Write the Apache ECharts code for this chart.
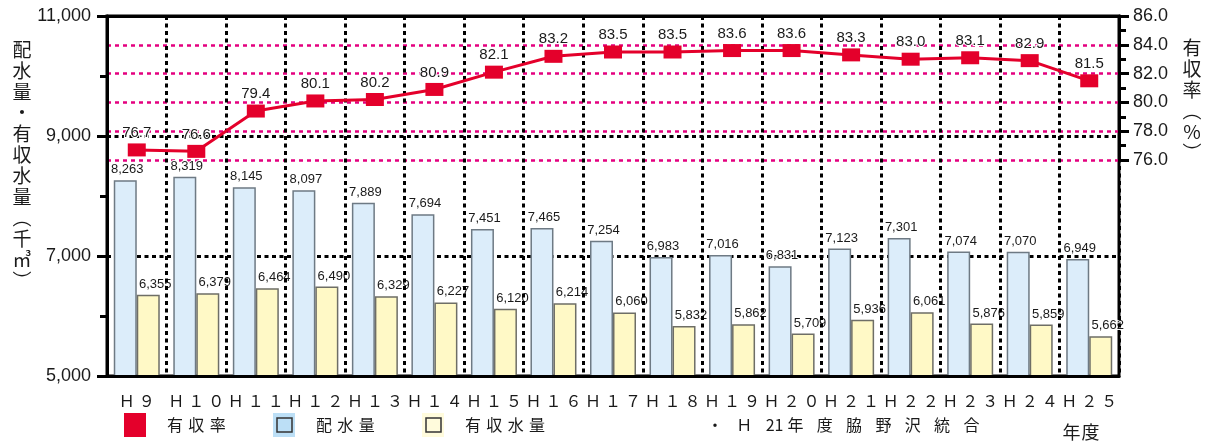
<!DOCTYPE html>
<html>
<head>
<meta charset="utf-8">
<script src="https://cdn.jsdelivr.net/npm/echarts@6/dist/echarts.min.js"></script>
<style>
  html, body { margin: 0; padding: 0; background: #fff; }
  #chart { width: 1212px; height: 443px; }
</style>
</head>
<body>
<div id="chart"></div>
<script>
// Fiscal years (Heisei)
const categories = ['H9', 'H10', 'H11', 'H12', 'H13', 'H14', 'H15', 'H16', 'H17',
                    'H18', 'H19', 'H20', 'H21', 'H22', 'H23', 'H24', 'H25'];
// 配水量 (thousand m3)
const distributed = [8263, 8319, 8145, 8097, 7889, 7694, 7451, 7465, 7254,
                     6983, 7016, 6831, 7123, 7301, 7074, 7070, 6949];
// 有収水量 (thousand m3)
const billed = [6355, 6379, 6464, 6490, 6329, 6227, 6120, 6214, 6060,
                5832, 5862, 5709, 5936, 6061, 5876, 5859, 5662];
// 有収率 (%)
const billedRatio = [76.7, 76.6, 79.4, 80.1, 80.2, 80.9, 82.1, 83.2, 83.5,
                     83.5, 83.6, 83.6, 83.3, 83.0, 83.1, 82.9, 81.5];

const volumeTitle = '配水量・有収水量︵千㎥︶';
const ratioTitle = '有収率︵%︶';
const noteTokens = ['・', 'Ｈ', '21', '年', '度', '脇', '野', '沢', '統', '合'];
const unitText = '年度';

const JP = '"Noto Sans CJK JP", "Noto Sans", sans-serif';
const NUM = '"Liberation Sans", Arial, sans-serif';
const RED = '#e4002b';
const PINK = '#e4007f';
const INK = '#1a1a1a';

const withCommas = v => String(v).replace(/\B(?=(\d{3})+(?!\d))/g, ',');
const toFullWidth = s => s.replace(/[A-Za-z0-9]/g, c => String.fromCharCode(c.charCodeAt(0) + 0xFEE0));
const spread = (s, gap) => Array.from(s).join(gap);
const vertical = s => Array.from(s).join('\n');

// note line: wide gaps between glyphs, a narrow one after the digits
const noteText = noteTokens.reduce((acc, t, i) => {
  if (i === 0) return t;
  const prev = noteTokens[i - 1];
  return acc + (/^\d+$/.test(prev) ? '\u2005' : '\u2002\u2004') + t;
}, '');

const blackDots = { color: '#000', width: 3, type: [4, 3.5] };
const tickStyle = { color: '#000', width: 3 };

const legendBase = {
  orient: 'horizontal', top: 413, padding: 0, selectedMode: false, z: 4,
  itemWidth: 22, itemHeight: 24,
  textStyle: { fontSize: 16, fontFamily: JP, color: INK },
  formatter: name => '\u2003' + spread(name, '\u2004')
};

const chart = echarts.init(document.getElementById('chart'), null, { renderer: 'canvas' });

chart.setOption({
  animation: false,
  backgroundColor: '#fff',
  grid: [
    { left: 107, right: 93, top: 16, bottom: 67, show: true,
      borderColor: '#000', borderWidth: 3, backgroundColor: 'transparent' },
    { left: 107, right: 93, top: 16, height: 144 }
  ],
  xAxis: [
    {
      type: 'category', gridIndex: 0, data: categories, z: 3,
      axisLine: { lineStyle: { color: '#000', width: 3 } },
      axisTick: { interval: 0, length: 10, lineStyle: tickStyle },
      axisLabel: {
        interval: 0, margin: 17, fontSize: 16, fontFamily: JP, color: INK,
        formatter: v => spread(toFullWidth(v), '\u2005')
      },
      splitLine: { show: true, interval: 0, lineStyle: blackDots }
    },
    {
      type: 'category', gridIndex: 1, data: categories, position: 'top', z: 6,
      axisLine: { show: true, lineStyle: { color: '#000', width: 3 } },
      axisTick: { show: false }, axisLabel: { show: false }, splitLine: { show: false }
    }
  ],
  yAxis: [
    {
      type: 'value', gridIndex: 0, min: 5000, max: 11000, interval: 2000,
      axisLine: { show: true, lineStyle: { color: '#000', width: 3 } },
      axisTick: { show: true, length: 10, lineStyle: tickStyle },
      minorTick: { show: true, splitNumber: 2, length: 7, lineStyle: tickStyle },
      axisLabel: { margin: 16, fontSize: 18, fontFamily: NUM, color: INK, formatter: v => withCommas(v) },
      splitLine: { show: true, lineStyle: blackDots }
    },
    {
      type: 'value', gridIndex: 1, position: 'right', min: 76, max: 86, interval: 2,
      axisLine: { show: true, lineStyle: { color: '#000', width: 3 } },
      axisTick: { show: true, length: 10, lineStyle: tickStyle },
      minorTick: { show: true, splitNumber: 2, length: 7, lineStyle: tickStyle },
      axisLabel: { margin: 14, fontSize: 18, fontFamily: NUM, color: INK, formatter: v => v.toFixed(1) },
      splitLine: { show: true, lineStyle: { color: PINK, width: 2.5, type: [4, 4] } }
    }
  ],
  legend: [
    Object.assign({}, legendBase, { left: 124,
      data: [{ name: '有収率', icon: 'rect', itemStyle: { color: RED, borderWidth: 0 } }] }),
    Object.assign({}, legendBase, { left: 273,
      data: [{ name: '配水量', icon: 'rect', itemStyle: { color: '#bcdff6', borderWidth: 0 } }] }),
    Object.assign({}, legendBase, { left: 422,
      data: [{ name: '有収水量', icon: 'rect', itemStyle: { color: '#fffbdc', borderWidth: 0 } }] })
  ],
  series: [
    {
      name: '配水量', type: 'bar', xAxisIndex: 0, yAxisIndex: 0,
      data: distributed, barWidth: 23, barGap: '0%',
      itemStyle: { color: '#dcedfa', borderColor: '#6e7a84', borderWidth: 1.5 },
      label: {
        show: true, position: 'top', distance: 4, offset: [2, 0],
        fontSize: 13, fontFamily: NUM, color: INK,
        textBorderColor: '#fff', textBorderWidth: 2,
        formatter: p => withCommas(p.value)
      }
    },
    {
      name: '有収水量', type: 'bar', xAxisIndex: 0, yAxisIndex: 0,
      data: billed, barWidth: 23, barGap: '0%',
      itemStyle: { color: '#fff9c6', borderColor: '#6e6e66', borderWidth: 1.5 },
      label: {
        show: true, position: 'top', distance: 4, offset: [7, 0],
        fontSize: 13, fontFamily: NUM, color: INK,
        textBorderColor: '#fff', textBorderWidth: 2,
        formatter: p => withCommas(p.value)
      }
    },
    {
      name: '有収率', type: 'line', xAxisIndex: 1, yAxisIndex: 1,
      data: billedRatio, clip: false, z: 5,
      symbol: 'rect', symbolSize: [18, 13],
      lineStyle: { color: RED, width: 3 },
      itemStyle: { color: RED },
      label: {
        show: true, position: 'top', distance: 3,
        fontSize: 15, fontFamily: NUM, color: INK,
        textBorderColor: '#fff', textBorderWidth: 2,
        formatter: p => p.value.toFixed(1)
      }
    }
  ],
  graphic: [
    // inner outlines of the bar legend swatches
    { type: 'rect', z: 100, shape: { x: 277, y: 418, width: 15, height: 14 },
      style: { fill: 'none', stroke: '#333', lineWidth: 1.5 } },
    { type: 'rect', z: 100, shape: { x: 426, y: 418, width: 15, height: 14 },
      style: { fill: 'none', stroke: '#333', lineWidth: 1.5 } },
    // vertical axis titles
    { type: 'text', x: 22, y: 39,
      style: { text: vertical(volumeTitle), fontSize: 19, lineHeight: 21, fontFamily: JP,
               fill: INK, align: 'center', verticalAlign: 'top' } },
    { type: 'text', x: 1192, y: 37,
      style: { text: vertical(ratioTitle), fontSize: 19, lineHeight: 21, fontFamily: JP,
               fill: INK, align: 'center', verticalAlign: 'top' } },
    // footnote and unit
    { type: 'text', x: 707, y: 425,
      style: { text: noteText, fontSize: 16, fontFamily: JP, fill: INK,
               align: 'left', verticalAlign: 'middle' } },
    { type: 'text', x: 1081, y: 432,
      style: { text: spread(unitText, '\u200a'), fontSize: 18, fontFamily: JP, fill: INK,
               align: 'center', verticalAlign: 'middle' } }
  ]
});
</script>
</body>
</html>
